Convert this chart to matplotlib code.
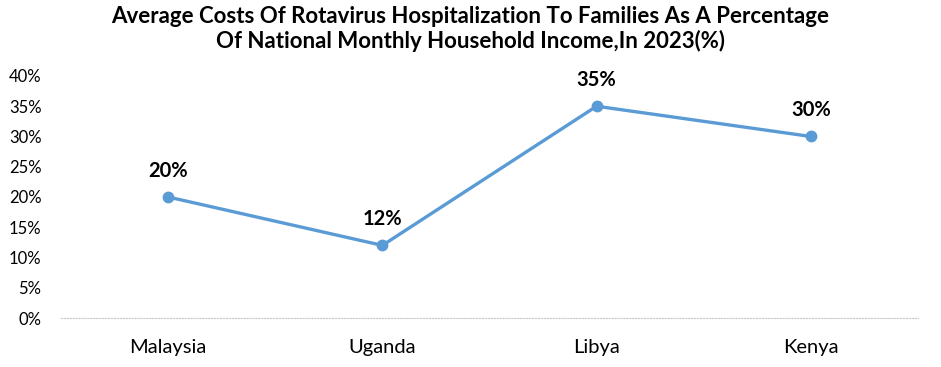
import matplotlib.pyplot as plt
from matplotlib.ticker import PercentFormatter

countries = ['Malaysia', 'Uganda', 'Libya', 'Kenya']
cost_pct = [20, 12, 35, 30]
y_ticks = [0, 5, 10, 15, 20, 25, 30, 35, 40]

plt.rcParams['font.family'] = ['Lato', 'DejaVu Sans']

fig = plt.figure(figsize=(9.41, 3.67), dpi=100)
ax = fig.add_axes([0.0648, 0.1335, 0.9107, 0.6595])

x = list(range(len(countries)))
ax.plot(x, cost_pct, color='#5B9BD5', lw=2.4, marker='o', markersize=7.5)

for xi, v in zip(x, cost_pct):
    ax.annotate(f'{v}%', (xi, v), xytext=(0, 19), textcoords='offset points',
                ha='center', va='center', fontsize=14.5, fontweight='bold')

ax.set_xlim(-0.5, len(countries) - 0.5)
ax.set_ylim(0, 40)
ax.set_yticks(y_ticks)
ax.yaxis.set_major_formatter(PercentFormatter(decimals=0))
ax.set_xticks(x)
ax.set_xticklabels(countries, fontsize=14.5)
ax.tick_params(axis='y', labelsize=12, length=0, pad=14)
ax.tick_params(axis='x', length=0, pad=15)

for s in ['top', 'right', 'left']:
    ax.spines[s].set_visible(False)
ax.spines['bottom'].set_color('#C8C8C8')
ax.spines['bottom'].set_linestyle(':')
ax.spines['bottom'].set_linewidth(0.8)

fig.text(0.5, 0.985, 'Average Costs Of Rotavirus Hospitalization To Families As A Percentage\nOf National Monthly Household Income,In 2023(%)',
         ha='center', va='top', fontsize=16, fontweight='bold', linespacing=1.2)

fig.savefig('out.png', dpi=100)
